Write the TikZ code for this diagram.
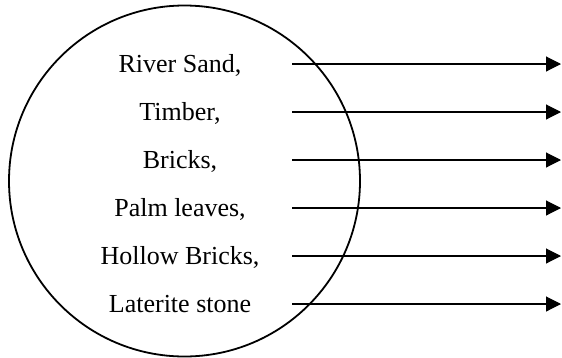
\documentclass[tikz,border=0pt]{standalone}
\usepackage{fontspec}
\setmainfont{Liberation Serif}
\usepackage{tikz}
\usetikzlibrary{arrows.meta,positioning}

\begin{document}
\begin{tikzpicture}[
    x=1pt, y=-1pt,
    material/.style={anchor=base, inner sep=0pt, font=\fontsize{26}{30}\selectfont},
    arrow/.style={-{Triangle[length=15pt, width=15pt]}, line width=1.1pt}
]
    \useasboundingbox (0,0) rectangle (562,357);
    \node[draw, circle, line width=1.8pt, minimum size=351pt, inner sep=0pt] (pool) at (184.5,181) {};

    \node[material] (sand) at (180,72) {River Sand,};
    \node[material] (timber) at (180,120) {Timber,};
    \node[material] (bricks) at (180,168) {Bricks,};
    \node[material] (palm) at (180,216) {Palm leaves,};
    \node[material] (hollow) at (180,264) {Hollow Bricks,};
    \node[material] (laterite) at (180,312) {Laterite stone};

    \coordinate (sand-s) at (292,64);
    \coordinate (timber-s) at (292,112);
    \coordinate (bricks-s) at (292,160);
    \coordinate (palm-s) at (292,208);
    \coordinate (hollow-s) at (292,256);
    \coordinate (laterite-s) at (292,304);

    \coordinate (sand-e) at (561,64);
    \coordinate (timber-e) at (561,112);
    \coordinate (bricks-e) at (561,160);
    \coordinate (palm-e) at (561,208);
    \coordinate (hollow-e) at (561,256);
    \coordinate (laterite-e) at (561,304);

    \draw[arrow] (sand-s) -- (sand-e);
    \draw[arrow] (timber-s) -- (timber-e);
    \draw[arrow] (bricks-s) -- (bricks-e);
    \draw[arrow] (palm-s) -- (palm-e);
    \draw[arrow] (hollow-s) -- (hollow-e);
    \draw[arrow] (laterite-s) -- (laterite-e);
\end{tikzpicture}
\end{document}
